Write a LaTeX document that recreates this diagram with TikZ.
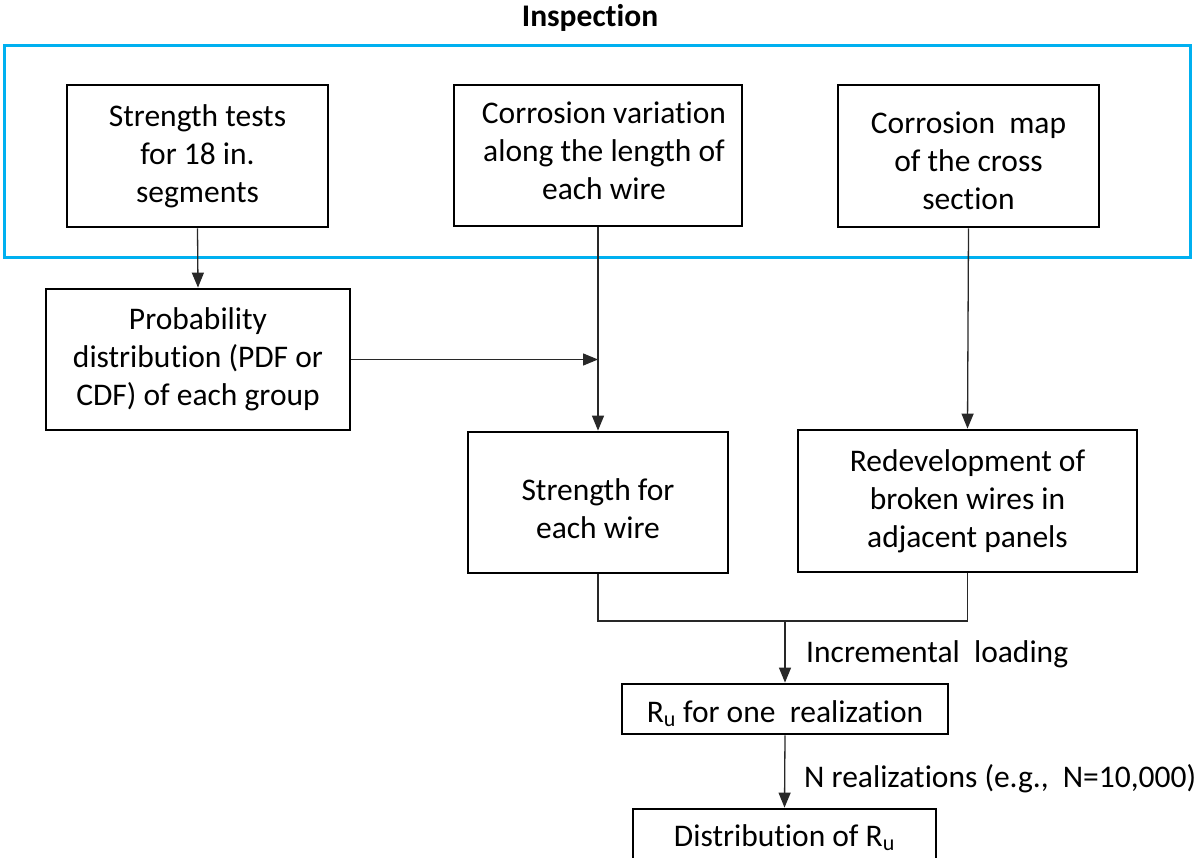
\documentclass[tikz,border=0pt]{standalone}
\usepackage{fontspec}
\setmainfont{Carlito}[Ligatures={NoCommon}]
\usetikzlibrary{arrows.meta}
\definecolor{inspblue}{RGB}{0,176,240}
\definecolor{connc}{RGB}{40,40,40}
\begin{document}
\begin{tikzpicture}[x=1pt,y=-1pt,
  txt/.style={font=\fontsize{31.5}{38}\selectfont, align=center},
  box/.style={txt, draw=black, line width=2.8pt, inner sep=0pt},
  conn/.style={draw=connc, line width=1.3pt},
  arr/.style={conn, -{Triangle[length=15pt,width=12pt]}},
  lbl/.style={font=\fontsize{31.5}{38}\selectfont, inner sep=0pt}
]
\path[use as bounding box, fill=white] (0,0) rectangle (1204,858);

% title and inspection frame
\node[lbl, anchor=base, font=\fontsize{31.5}{38}\selectfont\bfseries] (title) at (590,27) {Inspection};
\draw[draw=inspblue, line width=3pt] (4.5,46) rectangle (1190,258);

% boxes
\node[box, minimum width=261pt, minimum height=142pt] (A) at (197.5,156) {Strength tests\\for 18 in.\\segments};
\node[box, minimum width=288pt, minimum height=141pt] (B) at (598,155.5) {\hspace*{12pt}Corrosion variation\\\hspace*{12pt}along the length of\\\hspace*{12pt}each wire\rule[-9pt]{0pt}{0pt}};
\node[box, minimum width=261pt, minimum height=142pt] (C) at (968.5,156) {\rule{0pt}{32pt}Corrosion\ \ map\\of the cross\\section};
\node[box, minimum width=304pt, minimum height=141pt] (D) at (198,359.5) {Probability\\distribution (PDF or\\CDF) of each group};
\node[box, minimum width=260pt, minimum height=141pt] (E) at (598,502.5) {\rule{0pt}{35pt}Strength for\\each wire};
\node[box, minimum width=339pt, minimum height=142pt] (F) at (967.5,501) {Redevelopment of\\broken wires in\\adjacent panels};
\node[box, minimum width=326pt, minimum height=50pt] (G) at (785,709) {\rule{0pt}{31pt}R\textsubscript{u} for one\ \ realization};
\node[box, minimum width=303pt, minimum height=52pt] (H) at (784.5,835) {\rule{0pt}{27pt}Distribution of R\textsubscript{u}};

% connectors
\coordinate (jn) at (785,621);
\draw[arr] (A.south) -- (D.north);
\draw[arr] (B.south) -- (E.north);
\draw[arr] (C.south) -- (F.north);
\draw[arr] (D.east) -- (D.east -| B.south);
\draw[conn] (E.south) |- (jn) -| (F.south);
\draw[arr] (jn) -- (G.north);
\draw[arr] (G.south) -- (H.north);

% edge labels
\node[lbl, anchor=base west] (l1) at (806,662) {Incremental\ \ loading};
\node[lbl, anchor=base west] (l2) at (804,787) {N realizations (e.g.,\ \ N=10,000)};
\end{tikzpicture}
\end{document}
